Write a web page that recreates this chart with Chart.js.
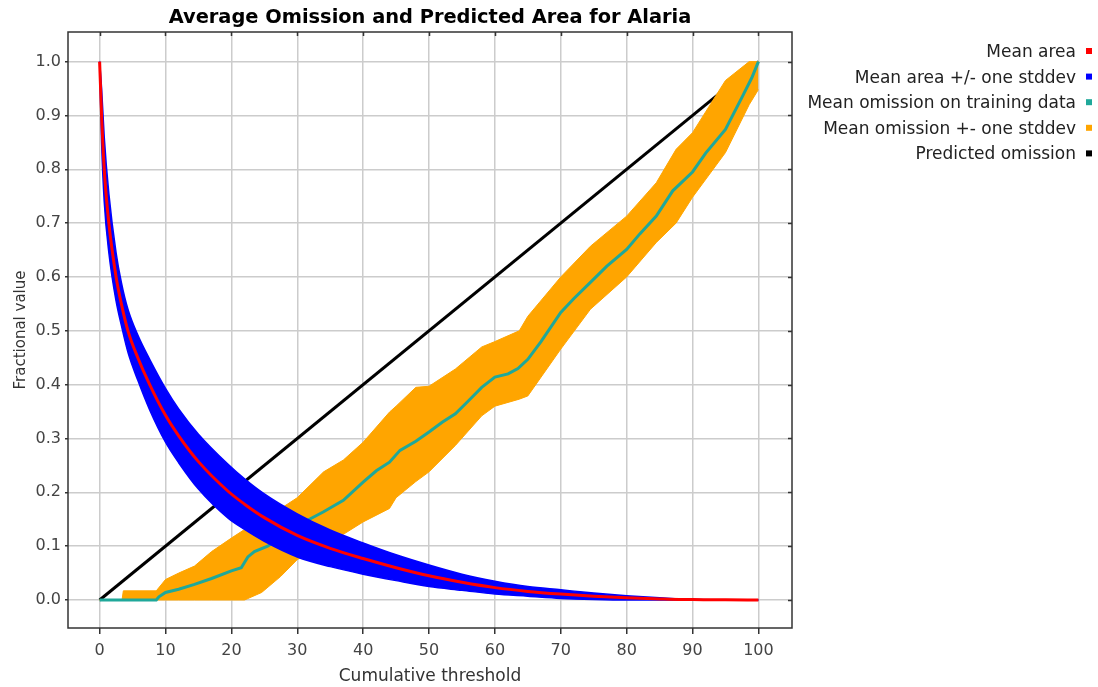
<!DOCTYPE html>
<html>
<head>
<meta charset="utf-8">
<title>Average Omission and Predicted Area for Alaria</title>
<script src="https://cdn.jsdelivr.net/npm/chart.js@4.4.1/dist/chart.umd.min.js"></script>
<style>
  html, body { margin: 0; padding: 0; background: #fff; }
  #wrap { width: 1098px; height: 687px; }
</style>
</head>
<body>
<div id="wrap"><canvas id="chart" width="1098" height="687"></canvas></div>
<script>
const titleText = 'Average Omission and Predicted Area for Alaria'
const xTitle = 'Cumulative threshold'
const yTitle = 'Fractional value'

const xTicks = [0, 10, 20, 30, 40, 50, 60, 70, 80, 90, 100]
const yTicks = [0, 0.1, 0.2, 0.3, 0.4, 0.5, 0.6, 0.7, 0.8, 0.9, 1.0]

const legendLabels = [
  'Mean area',
  'Mean area +/- one stddev',
  'Mean omission on training data',
  'Mean omission +- one stddev',
  'Predicted omission'
]
const legendColors = ['#ff0000', '#0000ff', '#1fa89a', '#ffa500', '#000000']

// mean predicted area and its +/- stddev band
const areaX     = [0, 0.3, 0.7, 1.4, 2.5, 3.3, 4.3, 5.8, 7.6, 10, 12, 15, 19.5, 22, 25, 30, 35, 40, 45, 50, 55, 60, 65, 70, 75, 80, 85, 88, 90, 95, 100]
const areaMean  = [1.0, 0.9, 0.8, 0.7, 0.6, 0.55, 0.5, 0.45, 0.4, 0.343, 0.305, 0.257, 0.202, 0.178, 0.153, 0.12, 0.096, 0.077, 0.06, 0.045, 0.033, 0.023, 0.016, 0.011, 0.007, 0.004, 0.002, 0.001, 0.0008, 0.0003, 0]
const areaUpper = [1.0, 0.95, 0.86, 0.755, 0.645, 0.59, 0.54, 0.492, 0.447, 0.393, 0.355, 0.308, 0.252, 0.225, 0.197, 0.16, 0.13, 0.106, 0.084, 0.065, 0.048, 0.035, 0.025, 0.019, 0.013, 0.008, 0.004, 0.002, 0.0008, 0.0003, 0]
const areaLower = [1.0, 0.85, 0.74, 0.645, 0.555, 0.51, 0.46, 0.408, 0.353, 0.293, 0.255, 0.206, 0.152, 0.131, 0.109, 0.08, 0.062, 0.048, 0.036, 0.025, 0.018, 0.011, 0.007, 0.003, 0.001, 0, 0, 0, 0.0008, 0.0003, 0]

// mean omission on training data
const omitX    = [0, 3, 8.6, 9, 10, 12, 14.4, 17, 20, 21.5, 22.5, 23.5, 25.5, 28, 30, 34, 37, 40, 42, 44, 45.6, 48, 50, 52, 54, 56, 58, 60, 62, 63.5, 65, 67, 70, 72, 74.5, 77, 80, 82, 84.5, 87, 90, 92, 95, 97.6, 99, 100]
const omitMean = [0, 0, 0, 0.006, 0.014, 0.02, 0.029, 0.04, 0.054, 0.06, 0.08, 0.09, 0.1, 0.12, 0.138, 0.164, 0.185, 0.219, 0.24, 0.256, 0.278, 0.295, 0.312, 0.33, 0.346, 0.37, 0.395, 0.414, 0.42, 0.43, 0.447, 0.48, 0.534, 0.56, 0.59, 0.62, 0.651, 0.68, 0.713, 0.76, 0.795, 0.83, 0.874, 0.936, 0.97, 1.0]

// omission +- one stddev band
const bandX     = [0, 3.4, 3.6, 8.6, 10, 12, 14.4, 17, 20, 22, 24.6, 27.5, 30, 34, 37, 40, 44, 45, 48, 50, 54, 58, 60, 63.7, 65, 70, 74.5, 80, 84.5, 87.5, 90, 95, 98.6, 100]
const bandUpper = [0, 0, 0.017, 0.017, 0.038, 0.05, 0.063, 0.09, 0.115, 0.131, 0.155, 0.17, 0.19, 0.238, 0.26, 0.293, 0.349, 0.36, 0.395, 0.397, 0.429, 0.47, 0.48, 0.5, 0.527, 0.60, 0.657, 0.713, 0.775, 0.837, 0.868, 0.965, 1.0, 1.0]
const bandLower = [0, 0, 0, 0, 0, 0, 0, 0, 0, 0, 0.014, 0.044, 0.075, 0.1, 0.122, 0.145, 0.17, 0.19, 0.22, 0.238, 0.287, 0.342, 0.36, 0.373, 0.379, 0.466, 0.54, 0.60, 0.664, 0.70, 0.748, 0.831, 0.92, 0.948]

// predicted omission
const predX = [0, 100]
const predY = [0, 1]

const pts = (xs, ys) => xs.map((x, i) => ({ x, y: ys[i] }))

const frame = {
  id: 'frame',
  afterDraw(chart) {
    const { ctx, chartArea: a, scales } = chart
    ctx.save()
    ctx.strokeStyle = '#333'
    ctx.lineWidth = 1.5
    ctx.strokeRect(a.left, a.top, a.right - a.left, a.bottom - a.top)
    ctx.beginPath()
    xTicks.forEach(v => {
      const px = Math.round(scales.x.getPixelForValue(v)) + 0.5
      ctx.moveTo(px, a.top); ctx.lineTo(px, a.top + 4)
    })
    yTicks.forEach(v => {
      const py = Math.round(scales.y.getPixelForValue(v)) + 0.5
      ctx.moveTo(a.right - 4, py); ctx.lineTo(a.right, py)
    })
    ctx.stroke()

    ctx.fillStyle = '#000'
    ctx.font = 'bold 19.4px "DejaVu Sans"'
    ctx.textAlign = 'center'
    ctx.textBaseline = 'alphabetic'
    ctx.fillText(titleText, (a.left + a.right) / 2, 23)

    ctx.font = '17px "DejaVu Sans"'
    ctx.textAlign = 'right'
    legendLabels.forEach((t, i) => {
      const y = 57 + i * 25.6
      ctx.fillStyle = '#222'
      ctx.fillText(t, 1076, y)
      ctx.fillStyle = legendColors[i]
      ctx.fillRect(1086, y - 9, 6, 6)
    })
    ctx.restore()
  }
}

new Chart(document.getElementById('chart'), {
  type: 'line',
  data: {
    datasets: [
      { label: legendLabels[0], data: pts(areaX, areaMean), borderColor: '#ff0000', borderWidth: 3, fill: false, cubicInterpolationMode: 'monotone' },
      { label: legendLabels[1], data: pts(areaX, areaUpper), borderColor: '#0000ff', backgroundColor: '#0000ff', borderWidth: 1.5, fill: '+1', cubicInterpolationMode: 'monotone' },
      { label: 'area lower', data: pts(areaX, areaLower), borderColor: '#0000ff', borderWidth: 1.5, fill: false, cubicInterpolationMode: 'monotone' },
      { label: legendLabels[2], data: pts(omitX, omitMean), borderColor: '#1fa89a', borderWidth: 3, fill: false },
      { label: legendLabels[3], data: pts(bandX, bandUpper), borderColor: '#ffa500', backgroundColor: '#ffa500', borderWidth: 1, fill: '+1' },
      { label: 'omission lower', data: pts(bandX, bandLower), borderColor: '#ffa500', borderWidth: 1, fill: false },
      { label: legendLabels[4], data: pts(predX, predY), borderColor: '#000000', borderWidth: 3, fill: false }
    ]
  },
  options: {
    responsive: false,
    animation: false,
    devicePixelRatio: 1,
    parsing: false,
    elements: { point: { radius: 0 }, line: { tension: 0 } },
    layout: { padding: { top: 32, right: 306, left: 0, bottom: 0 } },
    plugins: {
      legend: { display: false },
      tooltip: { enabled: false }
    },
    scales: {
      x: {
        type: 'linear',
        min: -4.8,
        max: 105.1,
        afterBuildTicks: s => { s.ticks = xTicks.map(v => ({ value: v })) },
        afterFit: s => { s.height = 59 },
        grid: { color: '#cccccc', lineWidth: 1.5, tickColor: '#333', tickLength: 6, tickWidth: 1.5 },
        border: { display: false },
        ticks: { color: '#444', font: { family: 'DejaVu Sans', size: 16 }, padding: 7, maxRotation: 0 },
        title: { display: true, text: xTitle, color: '#333', font: { family: 'DejaVu Sans', size: 17 }, padding: { top: 0, bottom: 0 } }
      },
      y: {
        type: 'linear',
        min: -0.052,
        max: 1.055,
        afterBuildTicks: s => { s.ticks = yTicks.map(v => ({ value: v })) },
        afterFit: s => { s.width = 68 },
        grid: { color: '#cccccc', lineWidth: 1.5, tickColor: '#333', tickLength: 3, tickWidth: 1.5 },
        border: { display: false },
        ticks: { color: '#444', font: { family: 'DejaVu Sans', size: 16 }, padding: 4, callback: v => v.toFixed(1) },
        title: { display: true, text: yTitle, color: '#333', font: { family: 'DejaVu Sans', size: 15 }, padding: { top: 12, bottom: 0 } }
      }
    }
  },
  plugins: [frame]
})
</script>
</body>
</html>
